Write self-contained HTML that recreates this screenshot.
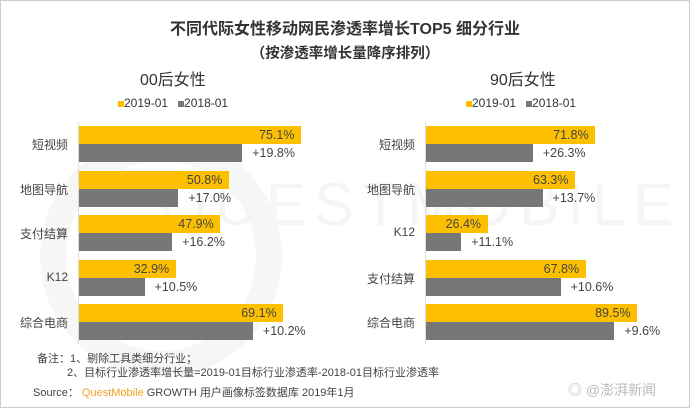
<!DOCTYPE html><html><head><meta charset="utf-8"><style>
body{margin:0;width:690px;height:408px;background:#fff;position:relative;overflow:hidden;font-family:"Liberation Sans","Noto Sans CJK SC",sans-serif;color:#333}
.a{position:absolute;white-space:nowrap}
.y{position:absolute;background:#fcc000}
.g{position:absolute;background:#777}
.v{position:absolute;font-size:12.5px;color:#444;white-space:nowrap}
.c{position:absolute;font-size:12px;color:#444;text-align:right;width:70px}
</style></head><body>
<div style="position:absolute;left:0;top:0;width:688px;height:406px;border:1px solid #ccc"></div>
<div style="position:absolute;left:40px;top:135px;width:190px;height:190px;border-radius:50%;border:26px solid #f6f6f6"></div>
<div class="a" style="left:160px;top:170px;font-size:60px;color:#f5f5f5;letter-spacing:8px">QUESTMOBILE</div>
<div class="a" style="left:0;width:690px;text-align:center;top:15px;font-size:16px;font-weight:bold;color:#333">不同代际女性移动网民渗透率增长TOP5 细分行业</div>
<div class="a" style="left:0;width:690px;text-align:center;top:42px;font-size:14.5px;font-weight:bold;color:#333">（按渗透率增长量降序排列）</div>
<div class="a" style="left:140px;top:66px;font-size:16px">00后女性</div>
<div class="a" style="left:490px;top:66px;font-size:16px">90后女性</div>
<div class="a" style="left:118px;top:96px;font-size:12px"><span style="display:inline-block;width:6px;height:6px;background:#fcc000"></span>2019-01 &nbsp;&nbsp;<span style="display:inline-block;width:6px;height:6px;background:#777"></span>2018-01</div>
<div class="a" style="left:466px;top:96px;font-size:12px"><span style="display:inline-block;width:6px;height:6px;background:#fcc000"></span>2019-01 &nbsp;&nbsp;<span style="display:inline-block;width:6px;height:6px;background:#777"></span>2018-01</div>
<div id="ch"></div>
<div class="a" style="left:37px;top:350px;font-size:11px;color:#444">备注：1、剔除工具类细分行业；</div>
<div class="a" style="left:67px;top:364px;font-size:11px;color:#444">2、目标行业渗透率增长量=2019-01目标行业渗透率-2018-01目标行业渗透率</div>
<div class="a" style="left:33px;top:384px;font-size:11px;color:#444">Source： <span style="color:#f0a020">QuestMobile</span> GROWTH 用户画像标签数据库 2019年1月</div>
<div class="a" style="left:568px;top:380px;font-size:14px;color:#bbb">◎ @澎湃新闻</div>
<script>
function draw(ax,sc,data){var h='';data.forEach(function(d,i){var t=126+i*44.5;
h+='<div class="c" style="left:'+(ax-80)+'px;top:'+(t+10)+'px">'+d[0]+'</div>';
var w=d[1]*sc,w2=(d[1]-d[2])*sc;
h+='<div class="y" style="left:'+ax+'px;top:'+t+'px;width:'+w+'px;height:18px"></div>';
h+='<div class="v" style="left:'+(ax+w-42)+'px;top:'+(t+2)+'px">'+d[1].toFixed(1)+'%</div>';
h+='<div class="g" style="left:'+ax+'px;top:'+(t+18)+'px;width:'+w2+'px;height:18px"></div>';
h+='<div class="v" style="left:'+(ax+w2+10)+'px;top:'+(t+20)+'px">+'+d[2].toFixed(1)+'%</div>';});
h+='<div style="position:absolute;left:'+ax+'px;top:122px;width:1px;height:222px;background:#ddd"></div>';
document.getElementById('ch').insertAdjacentHTML('beforeend',h);}
draw(78,2.97,[["短视频",75.1,19.8],["地图导航",50.8,17.0],["支付结算",47.9,16.2],["K12",32.9,10.5],["综合电商",69.1,10.2]]);
draw(425,2.37,[["短视频",71.8,26.3],["地图导航",63.3,13.7],["K12",26.4,11.1],["支付结算",67.8,10.6],["综合电商",89.5,9.6]]);
</script>
</body></html>
